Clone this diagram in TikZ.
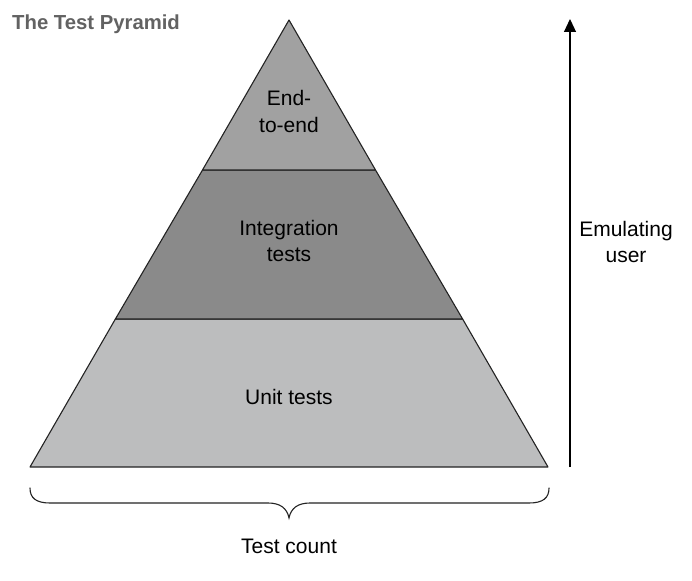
\documentclass[tikz,border=0pt]{standalone}
\usepackage{fontspec}
\setmainfont{Liberation Sans}
\usetikzlibrary{arrows.meta}
\definecolor{topfill}{RGB}{161,161,161}
\definecolor{midfill}{RGB}{138,138,138}
\definecolor{botfill}{RGB}{188,189,190}
\definecolor{edge}{RGB}{35,35,35}
\definecolor{titlegray}{RGB}{98,98,98}
\begin{document}
\begin{tikzpicture}[x=1pt,y=-1pt,
  lbl/.style={font=\fontsize{21}{26}\selectfont, align=center, text=black, inner sep=0pt},
  layer/.style={draw=edge, line width=1.1pt, line join=round}]
\useasboundingbox (0,0) rectangle (692,580);
% coordinates
\coordinate (apex) at (289,20);
\coordinate (l1) at (202.5,170);
\coordinate (r1) at (375.5,170);
\coordinate (l2) at (115.4,319);
\coordinate (r2) at (462.6,319);
\coordinate (bl) at (30,467);
\coordinate (br) at (548,467);
% layers
\filldraw[layer, fill=botfill] (l2) -- (r2) -- (br) -- (bl) -- cycle;
\filldraw[layer, fill=midfill] (l1) -- (r1) -- (r2) -- (l2) -- cycle;
\filldraw[layer, fill=topfill] (apex) -- (r1) -- (l1) -- cycle;
% labels
\node[lbl, anchor=base] (e2e) at (289,132) {End-\\to-end};
\node[lbl, anchor=base] (integ) at (289,261) {Integration\\tests};
\node[lbl, anchor=base] (unit) at (289,404) {Unit tests};
% title
\node[anchor=base west, inner sep=0pt, font=\bfseries\fontsize{20.3}{24}\selectfont, text=titlegray] (title) at (12,30) {The Test Pyramid};
% arrow
\coordinate (abot) at (570,467);
\coordinate (atop) at (570,19);
\draw[line width=1.2pt, -{Triangle[length=13pt,width=12pt]}] (abot) -- (atop);
\node[lbl, anchor=base] (emu) at (626,262) {Emulating\\user};
% brace
\coordinate (bL) at (30,488);
\coordinate (bR) at (549,488);
\coordinate (bT) at (289,518);
\draw[edge, line width=1.1pt, line cap=round]
  (bL) .. controls (30,498) and (36,503) .. (50,503)
  -- (268,503) .. controls (280,503) and (287,508) .. (bT)
  .. controls (291,508) and (298,503) .. (310,503)
  -- (529,503) .. controls (543,503) and (549,498) .. (bR);
\node[lbl, anchor=base] (count) at (289,553) {Test count};
\end{tikzpicture}
\end{document}
